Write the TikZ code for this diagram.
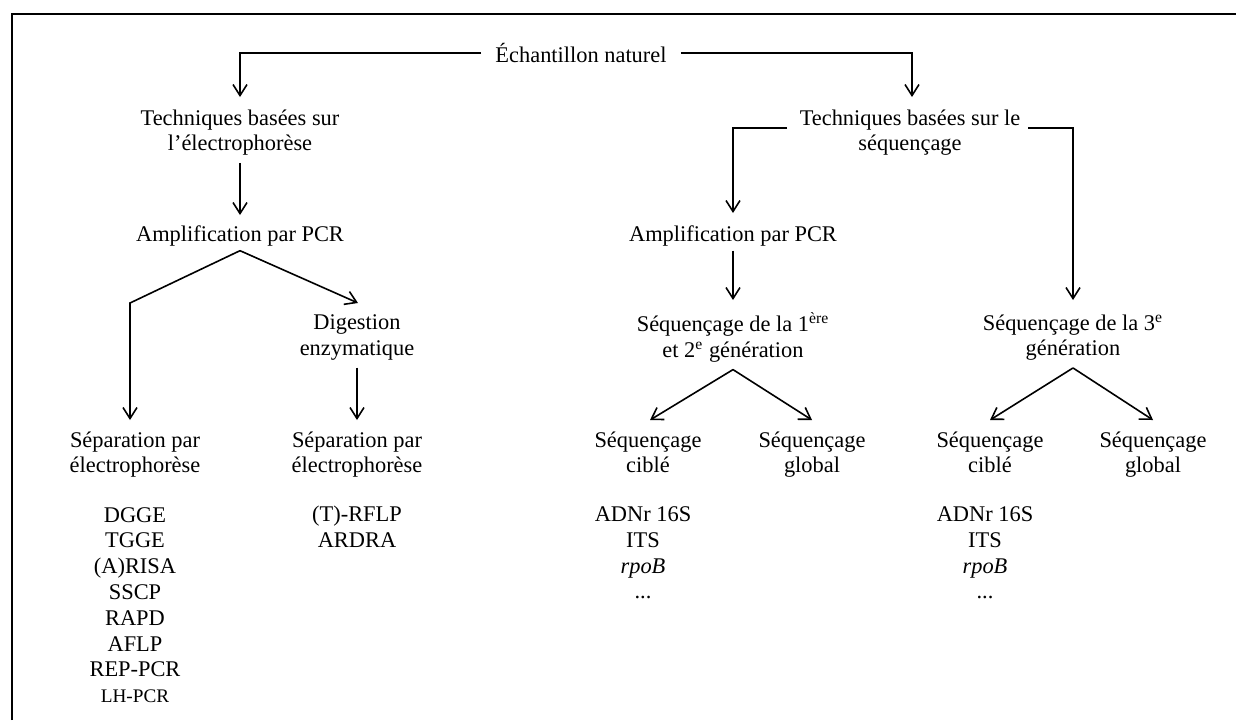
\documentclass[tikz,border=0pt]{standalone}
\usepackage{fontspec}
\setmainfont{Liberation Serif}
\usetikzlibrary{arrows.meta}
\begin{document}
\begin{tikzpicture}[x=0.5pt,y=-0.5pt,
  lbl/.style={align=center, font=\fontsize{11.2}{12.9}\selectfont, inner sep=2pt},
  arr/.style={line width=0.8pt, -{Straight Barb[length=5.5pt,width=7pt]}},
  frame/.style={line width=1.4pt}]
\useasboundingbox (0,0) rectangle (1236,720);
\draw[frame] (12,720) -- (12,14) -- (1236,14);
% nodes
\node[lbl, inner xsep=7pt] (ech) at (581,53) {Échantillon naturel};
\node[lbl] (tel) at (240,134) {Techniques basées sur\\l’électrophorèse\strut};
\node[lbl] (tseq) at (910,134) {Techniques basées sur le\\séquençage\strut};
\node[lbl] (ampl) at (240,236) {Amplification par PCR};
\node[lbl] (ampr) at (733,236) {Amplification par PCR};
\node[lbl] (dig) at (357,339) {Digestion\\enzymatique\strut};
\node[lbl] (seqa) at (733,339) {Séquençage de la 1\textsuperscript{ère}\\et 2\textsuperscript{e} génération\strut};
\node[lbl] (seqb) at (1073,339) {Séquençage de la 3\textsuperscript{e}\\génération\strut};
\node[lbl] (sep1) at (135,456) {Séparation par\\électrophorèse\strut};
\node[lbl] (sep2) at (357,456) {Séparation par\\électrophorèse\strut};
\node[lbl] (cib1) at (648,456) {Séquençage\\ciblé\strut};
\node[lbl] (glo1) at (812,456) {Séquençage\\global\strut};
\node[lbl] (cib2) at (990,456) {Séquençage\\ciblé\strut};
\node[lbl] (glo2) at (1153,456) {Séquençage\\global\strut};
\node[lbl] (lst1) at (135,605) {DGGE\\TGGE\\(A)RISA\\SSCP\\RAPD\\AFLP\\REP-PCR\\{\fontsize{9.6}{12.9}\selectfont LH-PCR}};
\node[lbl] (lst2) at (357,527) {(T)-RFLP\\ARDRA};
\node[lbl] (lst3) at (643,553) {ADNr 16S\\ITS\\\textit{rpoB}\\...};
\node[lbl] (lst4) at (985,553) {ADNr 16S\\ITS\\\textit{rpoB}\\...};
% junction and tip coordinates
\coordinate (t1) at (240,97);
\coordinate (t2) at (912,97);
\coordinate (t3) at (240,215);
\coordinate (j1) at (130,303);
\coordinate (t4) at (130,420);
\coordinate (t5) at (358,303);
\coordinate (t6) at (357,420);
\coordinate (s1) at (787,128);
\coordinate (t7) at (733,213);
\coordinate (s2) at (1028,128);
\coordinate (t8) at (1073,300);
\coordinate (t9) at (733,300);
\coordinate (t10) at (650,420);
\coordinate (t11) at (812,420);
\coordinate (t12) at (990,420);
\coordinate (t13) at (1153,420);
% connectors
\draw[arr] (ech.west) -| (t1);
\draw[arr] (ech.east) -| (t2);
\draw[arr] (tel.south) -- (t3);
\draw[arr] (ampl.south) -- (j1) -- (t4);
\draw[arr] (ampl.south) -- (t5);
\draw[arr] (dig.south) -- (t6);
\draw[arr] (s1) -| (t7);
\draw[arr] (s2) -| (t8);
\draw[arr] (ampr.south) -- (t9);
\draw[arr] (seqa.south) -- (t10);
\draw[arr] (seqa.south) -- (t11);
\draw[arr] (seqb.south) -- (t12);
\draw[arr] (seqb.south) -- (t13);
\end{tikzpicture}
\end{document}
